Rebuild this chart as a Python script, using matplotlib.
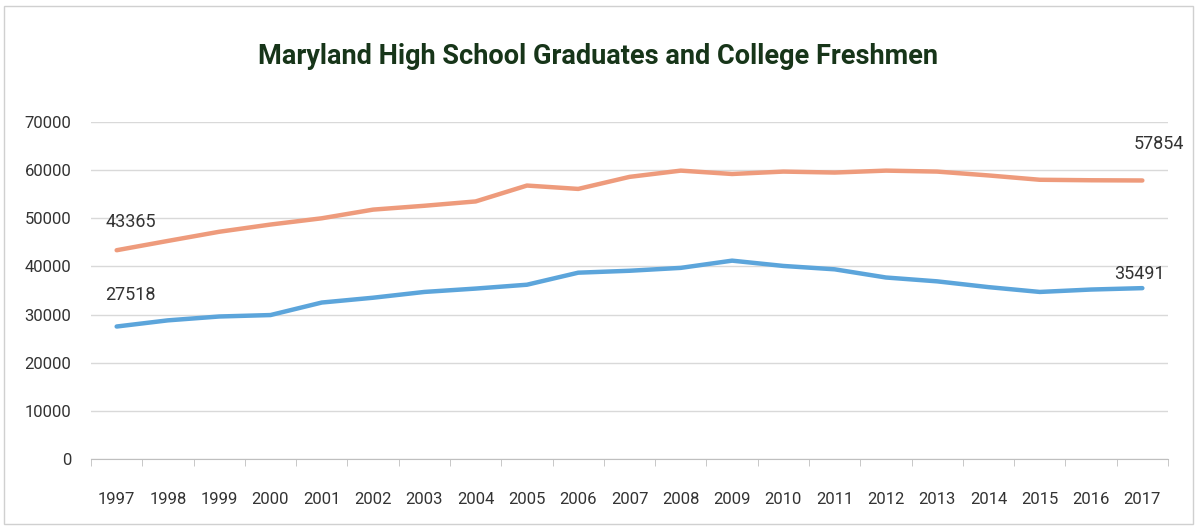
import numpy as np
import matplotlib.pyplot as plt
from matplotlib import font_manager
from matplotlib.patches import Rectangle

years = list(range(1997, 2018))
graduates = [43365, 45300, 47200, 48700, 50000, 51800, 52600, 53500, 56800, 56100,
             58600, 59900, 59200, 59700, 59500, 59900, 59700, 58900, 58000, 57900, 57854]
freshmen = [27518, 28800, 29600, 29900, 32500, 33500, 34700, 35400, 36200, 38700,
            39100, 39700, 41200, 40100, 39400, 37700, 36900, 35700, 34700, 35200, 35491]
y_ticks = [0, 10000, 20000, 30000, 40000, 50000, 60000, 70000]
title = 'Maryland High School Graduates and College Freshmen'

names = {f.name for f in font_manager.fontManager.ttflist}
family = 'Liberation Sans Narrow' if 'Liberation Sans Narrow' in names else 'Roboto'
plt.rcParams['font.family'] = family

W, H = 1197, 528
fig = plt.figure(figsize=(W / 100, H / 100), dpi=100)
ax = fig.add_axes([91 / W, 1 - 459 / H, (1168 - 91) / W, (459 - 122) / H])

orange = '#EE9B7C'
blue = '#5CA5DB'
ax.plot(years, graduates, color=orange, lw=3.2, solid_capstyle='round')
ax.plot(years, freshmen, color=blue, lw=3.2, solid_capstyle='round')

ax.set_xlim(1996.5, 2017.5)
ax.set_ylim(0, 70000)
ax.set_yticks(y_ticks)
ax.set_yticklabels([str(v) for v in y_ticks])
ax.set_xticks(years)
ax.set_xticklabels([str(y) for y in years])
ax.set_xticks(np.arange(1996.5, 2018, 1), minor=True)
ax.yaxis.grid(True, color='#d9d9d9', lw=1)
ax.set_axisbelow(True)
for s in ['top', 'right', 'left']:
    ax.spines[s].set_visible(False)
ax.spines['bottom'].set_color('#bfbfbf')
ax.tick_params(axis='y', length=0, labelsize=12, colors='#333333', pad=14)
ax.tick_params(axis='x', which='major', length=0, labelsize=12, colors='#333333', pad=24)
ax.tick_params(axis='x', which='minor', length=5, color='#bfbfbf')

lab = dict(fontsize=13, color='#333333')
ax.annotate(str(graduates[0]), (years[0], graduates[0]), xytext=(-8, 14),
            textcoords='offset points', ha='left', va='bottom', **lab)
ax.annotate(str(freshmen[0]), (years[0], freshmen[0]), xytext=(-8, 16),
            textcoords='offset points', ha='left', va='bottom', **lab)
ax.annotate(str(graduates[-1]), (years[-1], graduates[-1]), xytext=(-6, 20),
            textcoords='offset points', ha='left', va='bottom', **lab)
ax.annotate(str(freshmen[-1]), (years[-1], freshmen[-1]), xytext=(-20, 4),
            textcoords='offset points', ha='left', va='bottom', **lab)

fig.text(0.5, 1 - 57 / H, title, ha='center', va='center', fontsize=19.5,
         fontweight='bold', color='#173519')
fig.patches.append(Rectangle((4 / W, 4 / H), 1 - 8 / W, 1 - 10 / H, transform=fig.transFigure,
                             fill=False, edgecolor='#d0d0d0', lw=1))

fig.savefig('out.png', dpi=100)
